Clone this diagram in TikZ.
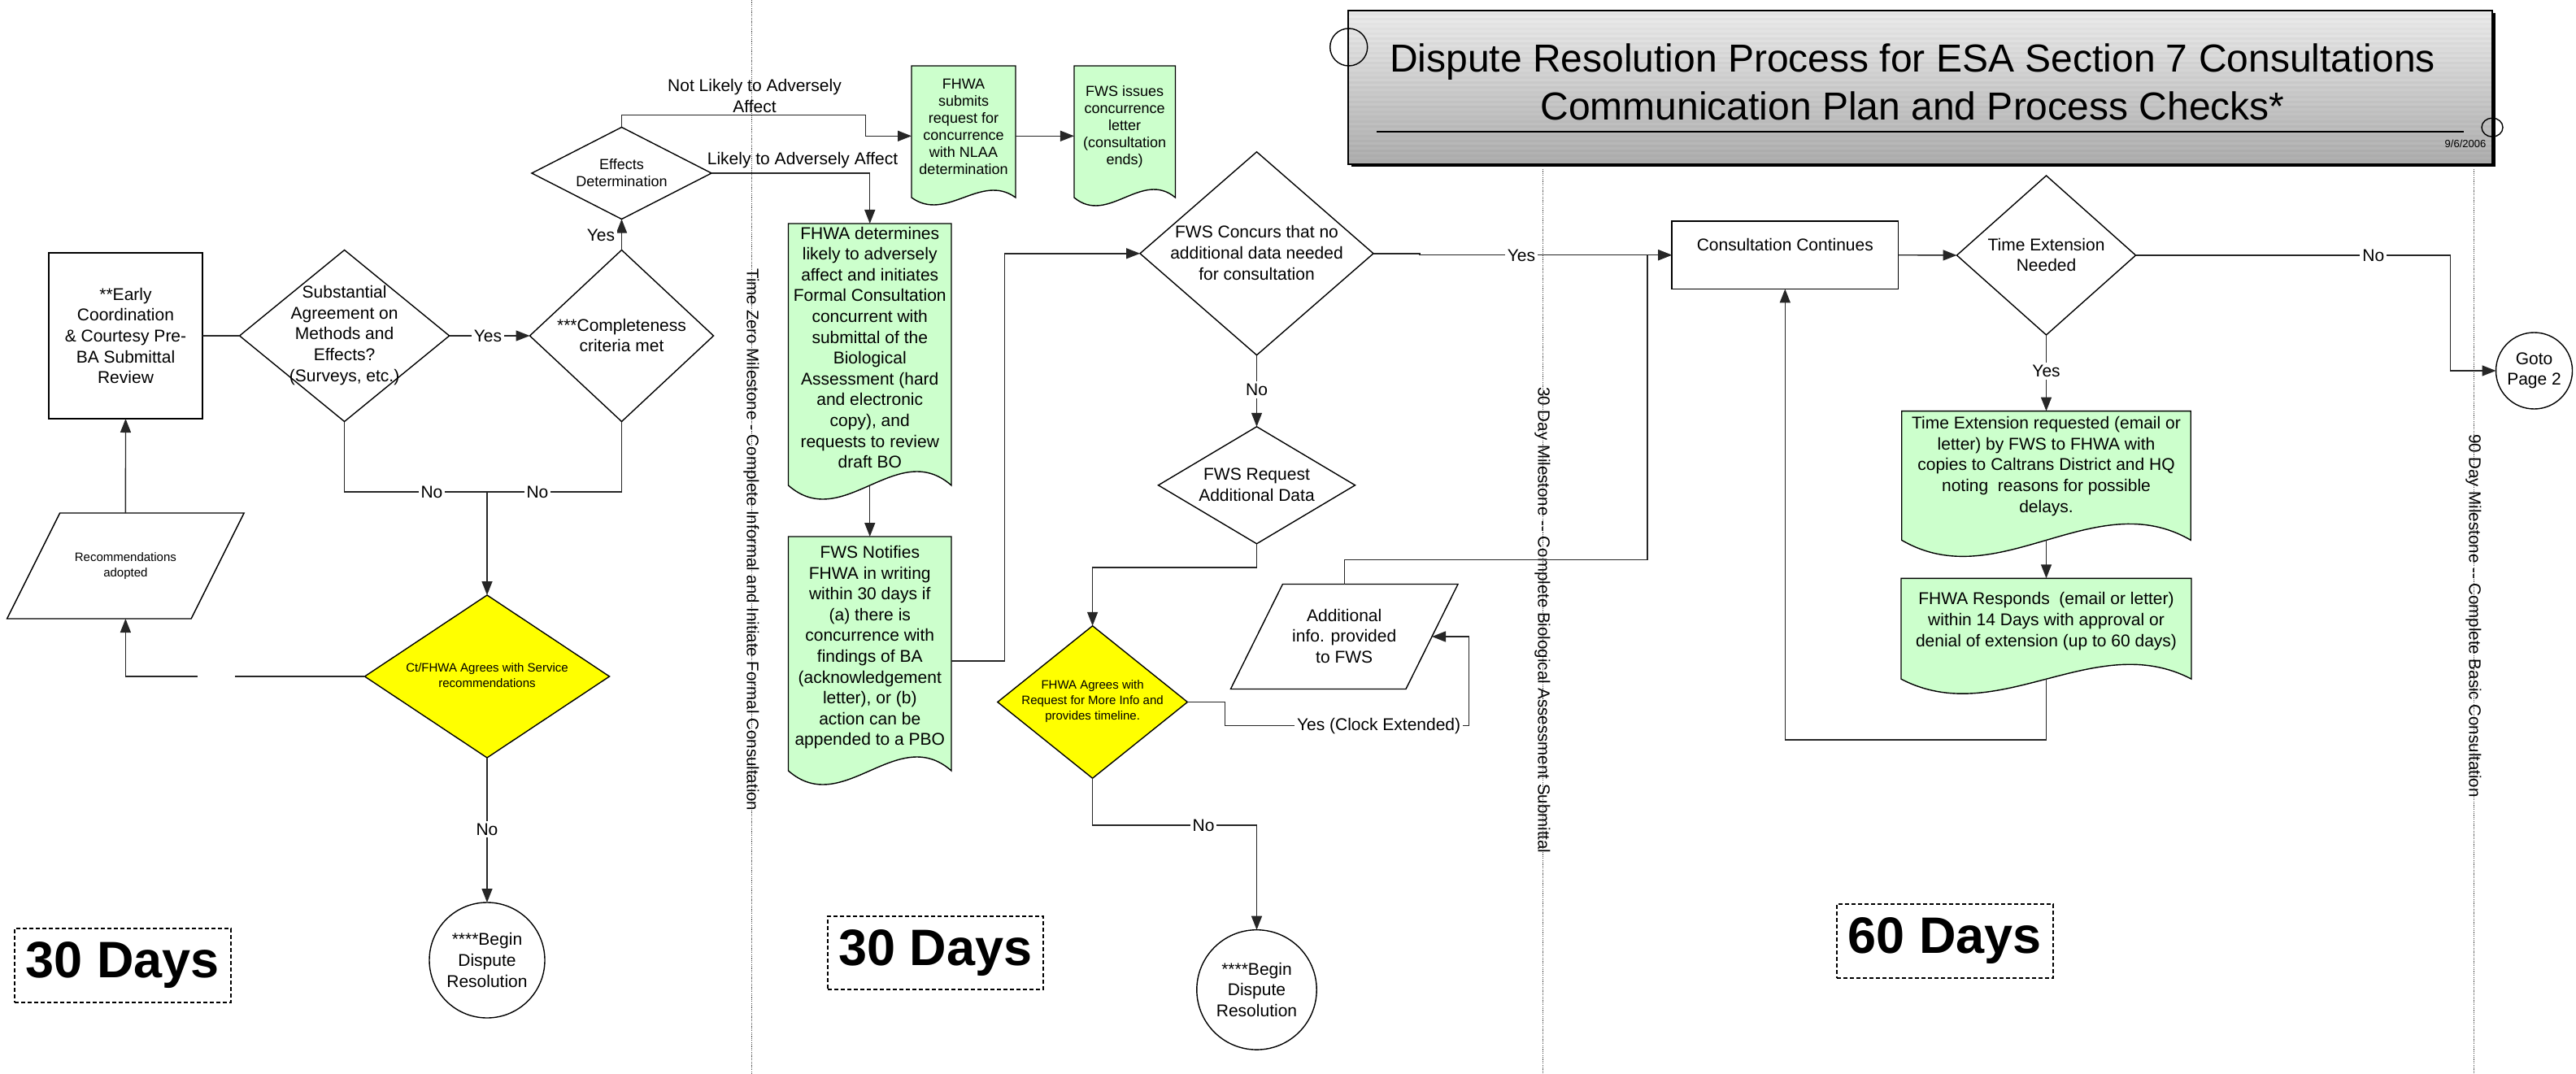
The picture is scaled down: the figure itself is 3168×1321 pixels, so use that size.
\documentclass[tikz,border=0pt]{standalone}
\usepackage{fontspec}
\setmainfont{Liberation Sans}
\usetikzlibrary{arrows.meta,shapes.geometric,calc}
\definecolor{docgreen}{HTML}{CCFFCC}
\definecolor{ylw}{HTML}{FFFF00}
\newcommand\mydoc[6]{%
  \node[anc, anchor=north, minimum width=#4*0.5pt, minimum height=#5*0.5pt] (#1) at (#2,#3) {};
  \draw[shp, fill=docgreen] (#1.north west) -- (#1.south west)
    .. controls ($(#1.south west)+({#4/3},{3.46*#6})$) and ($(#1.south east)+({-#4/3},{-3.46*#6})$) .. (#1.south east)
    -- (#1.north east) -- cycle;
}
\newcommand\mypara[6]{%
  \node[anc, minimum width=#4*0.5pt, minimum height=#5*0.5pt] (#1) at (#2,#3) {};
  \draw[shp, fill=white] ($(#1.north west)+({#6/2},0)$) -- ($(#1.north east)+({#6/2},0)$)
    -- ($(#1.south east)+({-#6/2},0)$) -- ($(#1.south west)+({-#6/2},0)$) -- cycle;
}
\begin{document}
\begin{tikzpicture}[x=0.5pt,y=-0.5pt,
  every node/.style={inner sep=0pt, outer sep=0pt},
  conn/.style={draw=black!85, line width=0.7pt},
  arr/.style={conn, -{Triangle[length=8.5pt,width=6.5pt]}},
  shp/.style={draw=black, line width=0.7pt},
  anc/.style={rectangle, inner sep=0pt, outer sep=0pt},
  dia/.style={shp, diamond, inner sep=0pt},
  txt/.style={align=center, font=\fontsize{10.5}{12.8}\selectfont},
  txts/.style={align=center, font=\fontsize{9}{10.5}\selectfont},
  txtxs/.style={align=center, font=\fontsize{7.5}{9.6}\selectfont},
  lbl/.style={fill=white, inner sep=1.5pt, font=\fontsize{10.5}{12.8}\selectfont},
  days/.style={draw, line width=0.9pt, dash pattern=on 2.5pt off 1.5pt, inner sep=0pt, font=\fontsize{31.5}{36}\selectfont\bfseries},
  mile/.style={draw=black!70, line width=0.5pt, dash pattern=on 0.6pt off 0.6pt},
  miletxt/.style={rotate=-90, font=\fontsize{10.25}{12}\selectfont},
]
\useasboundingbox (0,0) rectangle (3168,1321);
\fill[white] (0,0) rectangle (3168,1321);

% milestones
\draw[mile] (924,0) -- (924,1321);
\draw[mile] (1897,208) -- (1897,1321);
\draw[mile] (3042,208) -- (3042,1321);
\node[miletxt] (m1t) at (924,664) {Time Zero Milestone - Complete Informal and Initiate Formal Consultation};
\node[miletxt] (m2t) at (1897,763) {30 Day Milestone -{}- Complete Biological Assessment Submittal};
\node[miletxt] (m3t) at (3042,757.5) {90 Day Milestone -{}- Complete Basic Consultation};

% title box
\fill[black] (1661.5,16) rectangle (3068.5,205);
\foreach \i in {0,...,62}{
  \pgfmathtruncatemacro\cc{8+24*\i/62+2*mod(\i,2)}
  \fill[black!\cc] (1658,{12.7+3*\i}) rectangle (3065,{15.8+3*\i});
}
\draw[black, line width=0.9pt] (1658,12.7) rectangle (3065,201.7);
\node[anc] (titlebox) at (2361.5,107.2) {};
\node[anchor=base, font=\fontsize{24}{28}\selectfont] (t1) at (2352,89) {Dispute Resolution Process for ESA Section 7 Consultations};
\node[anchor=base, font=\fontsize{24}{28}\selectfont] (t2) at (2352,148) {Communication Plan and Process Checks*};
\draw[line width=1pt] (1693,162.3) -- (3030,162.3);
\node[anchor=base, font=\fontsize{6.5}{8}\selectfont] (date) at (3032,182) {9/6/2006};
\node[circle, draw, line width=0.7pt, minimum size=23pt] (tc1) at (1658.7,58) {};
\node[ellipse, draw, line width=0.7pt, minimum width=13pt, minimum height=11.5pt] (tc2) at (3065,156.7) {};

% left section
\node[shp, minimum width=94.5pt, minimum height=102pt, txt] (early) at (154.5,413) {**Early\\Coordination\\\&~Courtesy Pre-\\BA Submittal\\Review};
\node[dia, minimum width=129pt, minimum height=105.5pt] (subst) at (423.6,413) {};
\node[txt] (substt) at (423.6,412.5) {Substantial\\Agreement on\\Methods and\\Effects?\\(Surveys, etc.)};
\node[dia, minimum width=113pt, minimum height=105.5pt] (compl) at (764.5,413) {};
\node[txt] (complt) at (764.5,412.5) {***Completeness\\criteria met};
\node[dia, minimum width=110.5pt, minimum height=56.5pt] (effects) at (764.5,213) {};
\node[txts] (effectst) at (764.5,213) {Effects\\Determination};
\mypara{rec}{154.4}{696}{226.5}{130}{65}
\node[txtxs] (rect) at (154.4,696) {Recommendations\\adopted};
\node[dia, fill=ylw, minimum width=150.5pt, minimum height=100pt] (ctfhwa) at (599,832) {};
\node[txtxs] (ctfhwat) at (599,831) {Ct/FHWA Agrees with Service\\recommendations};
\node[shp, circle, minimum size=71pt, txt] (disp1) at (599,1181) {****Begin\\Dispute\\Resolution};
\node[days, minimum width=133pt, minimum height=45.5pt] (days1) at (151,1187.5) {30 Days};

% middle section
\mydoc{fhwasub}{1185}{81}{128}{162}{9}
\node[txts] (fhwasubt) at (1185,155.6) {FHWA\\submits\\request for\\concurrence\\with NLAA\\determination};
\mydoc{fwsiss}{1383.2}{81}{124.5}{162}{10}
\node[txts] (fwsisst) at (1383.2,156.2) {FWS issues\\concurrence\\letter\\(consultation\\ends)};
\mydoc{fhwadet}{1069.75}{275}{200.5}{322}{17}
\node[txt] (fhwadett) at (1069.75,427.3) {FHWA determines\\likely to adversely\\affect and initiates\\Formal Consultation\\concurrent with\\submittal of the\\Biological\\Assessment (hard\\and electronic\\copy), and\\requests to review\\draft BO};
\mydoc{fwsnot}{1069.75}{660}{200.5}{288}{17}
\node[txt] (fwsnott) at (1069.75,796.3) {FWS Notifies\\FHWA in writing\\within 30 days if\\(a) there is\\concurrence with\\findings of BA\\(acknowledgement\\letter), or (b)\\action can be\\appended to a PBO};
\node[dia, minimum width=143.5pt, minimum height=125pt] (concurs) at (1545.5,311.8) {};
\node[txt] (concurst) at (1545.5,311) {FWS Concurs that no\\additional data needed\\for consultation};
\node[dia, minimum width=121pt, minimum height=72pt] (fwsreq) at (1545.5,596.8) {};
\node[txt] (fwsreqt) at (1545.5,596.3) {FWS Request\\Additional Data};
\node[dia, fill=ylw, minimum width=116.75pt, minimum height=93.75pt] (fhwaagr) at (1343.6,863.5) {};
\node[txtxs] (fhwaagrt) at (1343.6,862.6) {FHWA Agrees with\\Request for More Info and\\provides timeline.};
\mypara{addinfo}{1653.2}{783}{215.6}{129}{64}
\node[txt] (addinfot) at (1653.2,782.4) {Additional\\info. provided\\to FWS};
\node[shp, circle, minimum size=73.7pt, txt] (disp2) at (1545.5,1217.4) {****Begin\\Dispute\\Resolution};
\node[days, minimum width=132.5pt, minimum height=45pt] (days2) at (1150.5,1172) {30 Days};

% right section
\node[shp, minimum width=139.3pt, minimum height=41.7pt] (conscont) at (2195.3,313.7) {};
\node[txt] (conscontt) at (2195.3,301) {Consultation Continues};
\node[dia, minimum width=110pt, minimum height=98pt] (timeext) at (2516.5,314) {};
\node[txt] (timeextt) at (2516.5,313.4) {Time Extension\\Needed};
\mydoc{timereq}{2516.5}{505.6}{355.5}{158.8}{20}
\node[txt] (timereqt) at (2516.5,573.4) {Time Extension requested (email or\\letter) by FWS to FHWA with\\copies to Caltrans District and HQ\\noting~~reasons for possible\\delays.};
\mydoc{fhwaresp}{2516.5}{711.3}{357}{123.9}{18}
\node[txt] (fhwarespt) at (2516.5,764) {FHWA Responds~~(email or letter)\\within 14 Days with approval or\\denial of extension (up to 60 days)};
\node[shp, circle, minimum size=47pt, txt] (goto) at (3116.5,456) {Goto\\Page 2};
\node[days, minimum width=133pt, minimum height=45.5pt] (days3) at (2392,1157.5) {60 Days};

% coordinates
\coordinate (j10) at (599,605);
\coordinate (gapR) at (289,832);
\coordinate (gapL) at (243,832);
\coordinate (j3) at (1064.3,141.7);
\coordinate (j2) at (1235.7,311.8);
\coordinate (j4) at (1545.5,698);
\coordinate (j1) at (2026,688.6);
\coordinate (j5) at (1506.3,892.7);
\coordinate (j6) at (1806.3,892.7);
\coordinate (j7) at (1343.6,1015);
\coordinate (j8) at (3013.4,314);
\coordinate (j9) at (2516.5,910);

% connectors
\draw[conn] (early.east) -- (subst.west);
\draw[arr] (subst.east) -- (compl.west);
\draw[arr] (compl.north) -- (effects.south);
\draw[conn] (subst.south) |- (j10);
\draw[conn] (compl.south) |- (j10);
\draw[arr] (j10) -- (ctfhwa.north);
\draw[conn] (ctfhwa.west) -- (gapR);
\draw[arr] (gapL) -| (rec.south);
\draw[arr] (rec.north) -- (early.south);
\draw[arr] (ctfhwa.south) -- (disp1.north);
\draw[arr] (effects.north) |- (j3) |- ([yshift=-2.65pt]fhwasub.west);
\draw[arr] ([yshift=-2.65pt]fhwasub.east) -- ([yshift=-2.65pt]fwsiss.west);
\draw[arr] (effects.east) -| (fhwadet.north);
\draw[arr] (fhwadet.south) -- (fwsnot.north);
\draw[arr] ([yshift=-4.5pt]fwsnot.east) -| (j2) -- (concurs.west);
\draw[arr] (concurs.south) -- (fwsreq.north);
\draw[arr] (fwsreq.south) -- (j4) -| (fhwaagr.north);
\draw[arr] (concurs.east) -- ++(57,0) |- (conscont.west);
\draw[arr] (addinfo.north) |- (j1) |- (conscont.west);
\draw[arr] (fhwaagr.east) -| (j5) -- (j6) |- (addinfo.east);
\draw[arr] (fhwaagr.south) -- (j7) -| (disp2.north);
\draw[arr] (conscont.east) -- (timeext.west);
\draw[arr] (timeext.east) -- (j8) |- (goto.west);
\draw[arr] (timeext.south) -- (timereq.north);
\draw[arr] (timereq.south) -- (fhwaresp.north);
\draw[arr] (fhwaresp.south) -- (j9) -| (conscont.south);

% labels
\node[lbl] (ly1) at (600,413) {Yes};
\node[lbl] (ly2) at (739,289) {Yes};
\node[lbl] (ln1) at (531,605) {No};
\node[lbl] (ln2) at (661,605) {No};
\node[lbl] (ln3) at (599,1020) {No};
\node[txt] (lnla) at (928,118) {Not Likely to Adversely\\Affect};
\node[txt] (lla) at (987,197) {Likely to Adversely Affect};
\node[lbl] (ln4) at (1545.5,479.6) {No};
\node[lbl] (ly3) at (1871,314) {Yes};
\node[lbl] (lyc) at (1695.6,892.7) {Yes (Clock Extended)};
\node[lbl] (ln5) at (1480,1015) {No};
\node[lbl] (ln6) at (2918.8,314) {No};
\node[lbl] (ly4) at (2516.5,456.5) {Yes};
\end{tikzpicture}
\end{document}
